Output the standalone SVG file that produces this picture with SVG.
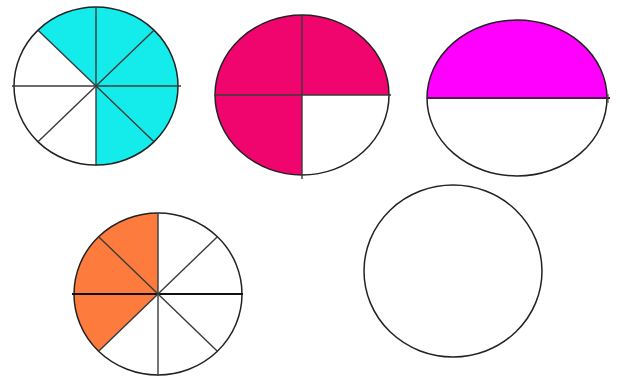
<svg xmlns="http://www.w3.org/2000/svg" width="620" height="382" viewBox="0 0 620 382">
<style>
.rim{fill:none;stroke:#222;stroke-width:1.5}
.ln{stroke:#3a3a3a;stroke-width:1.4;fill:none}
.lnd{stroke:#111;stroke-width:1.8;fill:none}
</style>
<rect width="620" height="382" fill="#fff"/>
<g id="circle-five-eighths">
<ellipse cx="96" cy="86" rx="82" ry="79" fill="#fff"/>
<path d="M96,86 L38.02,30.14 A82 79 0 1 1 96,165 Z" fill="#14ecec"/>
<ellipse class="rim" cx="96" cy="86" rx="82" ry="79"/>
<line class="ln" x1="96" y1="7" x2="96" y2="166"/>
<line class="ln" x1="12" y1="86" x2="181" y2="86"/>
<line class="ln" x1="38.02" y1="30.14" x2="153.98" y2="141.86"/>
<line class="ln" x1="153.98" y1="30.14" x2="38.02" y2="141.86"/>
</g>
<g id="circle-three-quarters">
<ellipse cx="302" cy="95" rx="87" ry="80" fill="#f0046e"/>
<path d="M302,95 L389,95 A87 80 0 0 1 302,175 Z" fill="#fff"/>
<ellipse class="rim" cx="302" cy="95" rx="87" ry="80"/>
<line class="ln" x1="302" y1="15" x2="302" y2="179"/>
<line class="ln" x1="214" y1="95" x2="391" y2="95"/>
</g>
<g id="circle-half">
<ellipse cx="517" cy="98" rx="90" ry="78" fill="#fff"/>
<path d="M427,98 A90 78 0 0 1 607,98 Z" fill="#ff00ff"/>
<ellipse class="rim" cx="517" cy="98" rx="90" ry="78"/>
<line x1="427" y1="98" x2="610" y2="98" stroke="#5a1050" stroke-width="2"/>
<line x1="608" y1="94" x2="608" y2="103" stroke="#333" stroke-width="1"/>
</g>
<g id="circle-three-eighths">
<ellipse cx="158" cy="294" rx="84" ry="81" fill="#fff"/>
<path d="M158,294 L158,213 A84 81 0 0 0 98.6,351.3 Z" fill="#fd7b3c"/>
<ellipse class="rim" cx="158" cy="294" rx="84" ry="81"/>
<line class="lnd" x1="72" y1="294" x2="243" y2="294"/>
<line class="ln" x1="158" y1="213" x2="158" y2="376"/>
<line class="ln" x1="98.6" y1="236.7" x2="217.4" y2="351.3"/>
<line class="ln" x1="217.4" y1="236.7" x2="98.6" y2="351.3"/>
</g>
<g id="circle-empty">
<ellipse class="rim" cx="453" cy="271" rx="89" ry="86" fill="#fff"/>
</g>
</svg>
